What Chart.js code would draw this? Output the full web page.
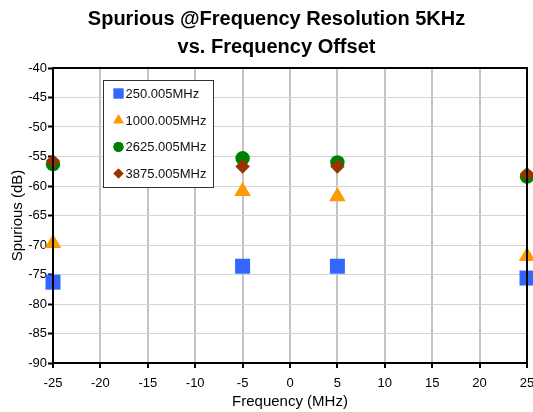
<!DOCTYPE html>
<html>
<head>
<meta charset="utf-8">
<script src="https://cdn.jsdelivr.net/npm/chart.js@4/dist/chart.umd.min.js"></script>
<style>
  html, body { margin: 0; padding: 0; background: #fff; }
  #wrap { width: 533px; height: 412px; }
</style>
</head>
<body>
<div id="wrap"><canvas id="myChart" width="533" height="412"></canvas></div>
<script>
// frequency offsets (MHz)
const offsets = [-25, -5, 5, 25];
const seriesNames = ['250.005MHz', '1000.005MHz', '2625.005MHz', '3875.005MHz'];
// spurious (dB)
const s250 = [-76.3, -73.6, -73.6, -75.6];
const s1000 = [-69.7, -60.9, -61.8, -71.9];
const s2625 = [-56.3, -55.3, -56.0, -58.4];
const s3875 = [-55.8, -56.7, -56.7, -58.0];
const xTicks = [-25, -20, -15, -10, -5, 0, 5, 10, 15, 20, 25];
const yTicks = [-90, -85, -80, -75, -70, -65, -60, -55, -50, -45, -40];

const font = "'Liberation Sans', Arial, Helvetica, sans-serif";
const colors = ['#3366ff', '#ff9900', '#008000', '#993300'];
const styles = ['rect', 'triangle', 'circle', 'rectRot'];
const radii = [10.6, 9.5, 7.2, 7.2];
const legendRadii = [7, 6, 5, 5];
const allValues = [s250, s1000, s2625, s3875];

const datasets = seriesNames.map((name, i) => ({
    label: name,
    data: offsets.map((x, j) => ({ x: x, y: allValues[i][j] })),
    backgroundColor: colors[i],
    borderColor: colors[i],
    borderWidth: 0,
    pointStyle: styles[i],
    pointRadius: radii[i],
    pointHoverRadius: radii[i],
    showLine: false,
    clip: false,
    order: 3 - i  // later series sit on top
}));

// black frame round the plot and a boxed legend inside it
const framePlugin = {
    id: 'frame',
    afterLayout(chart) {
        // title in the original sits a bit left of the plot centre
        chart.titleBlock.left = 20;
        chart.titleBlock.right = 533;
    },
    afterDraw(chart) {
        const a = chart.chartArea;
        const ctx = chart.ctx;
        ctx.save();
        ctx.strokeStyle = '#000';
        ctx.lineWidth = 2;
        ctx.strokeRect(a.left, a.top, a.right - a.left, a.bottom - a.top);

        // legend box
        const bx = 103.5, by = 80.5, bw = 110, bh = 107;
        ctx.fillStyle = '#fff';
        ctx.fillRect(bx, by, bw, bh);
        ctx.lineWidth = 1;
        ctx.strokeStyle = '#333';
        ctx.strokeRect(bx, by, bw, bh);
        ctx.font = '13px ' + font;
        ctx.textBaseline = 'middle';
        ctx.textAlign = 'left';
        seriesNames.forEach((name, i) => {
            const yy = by + 13 + i * 26.7;
            ctx.fillStyle = colors[i];
            Chart.helpers.drawPoint(ctx, { pointStyle: styles[i], radius: legendRadii[i], borderWidth: 0 }, bx + 15, yy);
            ctx.fill();
            ctx.fillStyle = '#111';
            ctx.fillText(name, bx + 22, yy + 1);
        });
        ctx.restore();
    }
};

new Chart(document.getElementById('myChart').getContext('2d'), {
    type: 'scatter',
    data: { datasets: datasets },
    options: {
        responsive: false,
        animation: false,
        layout: { autoPadding: false, padding: { right: 6, left: 0, bottom: 0, top: 0 } },
        plugins: {
            legend: { display: false },
            tooltip: { enabled: false },
            title: {
                display: true,
                fullSize: false,
                text: ['Spurious @Frequency Resolution 5KHz', 'vs. Frequency Offset'],
                color: '#000',
                font: { family: font, size: 20, weight: 'bold', lineHeight: 28 / 20 },
                padding: { top: 5, bottom: 7 }
            }
        },
        scales: {
            x: {
                type: 'linear',
                min: -25,
                max: 25,
                afterBuildTicks: (scale) => { scale.ticks = xTicks.map(v => ({ value: v })); },
                afterFit: (scale) => { scale.height = 49; scale.paddingLeft = 0; scale.paddingRight = 0; },
                ticks: { color: '#000', font: { family: font, size: 13 }, padding: 8, maxRotation: 0, autoSkip: false },
                grid: { color: '#c4c4c4', lineWidth: 2, tickColor: '#000', tickLength: 5, tickWidth: 2 },
                border: { color: '#000', width: 2 },
                title: { display: true, text: 'Frequency (MHz)', color: '#000', font: { family: font, size: 15 }, padding: { top: 0, bottom: 1 } }
            },
            y: {
                type: 'linear',
                min: -90,
                max: -40,
                afterBuildTicks: (scale) => { scale.ticks = yTicks.map(v => ({ value: v })); },
                afterFit: (scale) => { scale.width = 53; },
                ticks: { color: '#000', font: { family: font, size: 13 }, padding: 1, autoSkip: false },
                grid: { color: '#d4d4d4', lineWidth: 1, tickColor: '#000', tickLength: 5, tickWidth: 2 },
                border: { color: '#000', width: 2 },
                title: { display: true, text: 'Spurious (dB)', color: '#000', font: { family: font, size: 15 }, padding: { top: 9, bottom: 0 } }
            }
        }
    },
    plugins: [framePlugin]
});
</script>
</body>
</html>
